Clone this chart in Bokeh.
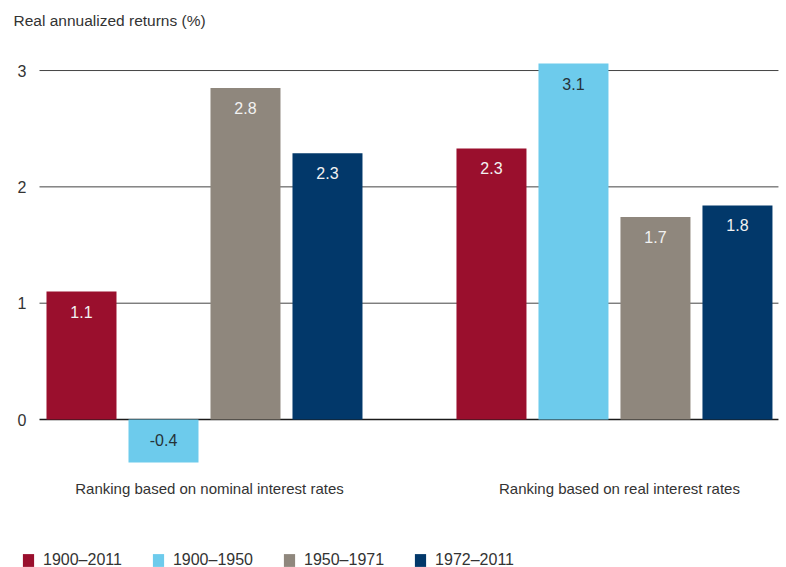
from bokeh.plotting import figure
from bokeh.models import ColumnDataSource, Range1d, Legend, LegendItem
from bokeh.core.properties import value
from bokeh.embed import file_html
from bokeh.resources import INLINE

groups = ["Ranking based on nominal interest rates", "Ranking based on real interest rates"]
series = ["1900–2011", "1900–1950", "1950–1971", "1972–2011"]
colors = ["#9A0F2D", "#6DCBEC", "#8F877D", "#02386A"]
label_colors = ["#F2F2F2", "#263238", "#F2F2F2", "#F2F2F2"]
nominal_values = [1.1, -0.37, 2.85, 2.29]
real_values = [2.33, 3.06, 1.74, 1.84]
nominal_labels = ["1.1", "-0.4", "2.8", "2.3"]
real_labels = ["2.3", "3.1", "1.7", "1.8"]
y_ticks = [0, 1, 2, 3]
y_tick_labels = ["0", "1", "2", "3"]
title_text = "Real annualized returns (%)"

FONT = "Liberation Sans"
TXT = "#333333"

# plot area extents (data units)
X_LEFT, X_RIGHT = -0.512, 8.5

p = figure(width=786, height=567, output_backend="svg", toolbar_location=None,
           x_range=Range1d(-0.9878, 8.598), y_range=Range1d(-1.272, 3.602),
           min_border_left=0, min_border_right=0, min_border_top=0, min_border_bottom=0)
p.outline_line_color = None
p.axis.visible = False
p.grid.visible = False

# gridlines
grid_src = ColumnDataSource(dict(x0=[X_LEFT] * len(y_ticks), x1=[X_RIGHT] * len(y_ticks), y=y_ticks,
                                 c=["#1a1a1a" if t == 0 else "#444444" for t in y_ticks],
                                 w=[1.4 if t == 0 else 1.0 for t in y_ticks]))
p.segment(x0="x0", x1="x1", y0="y", y1="y", source=grid_src, line_color="c", line_width="w")

# y tick labels
tick_src = ColumnDataSource(dict(x=[X_LEFT] * len(y_ticks), y=y_ticks, t=y_tick_labels))
p.text(x="x", y="y", text="t", source=tick_src, x_offset=-13, text_align="right", text_baseline="middle",
       text_font=value(FONT), text_font_size="16px", text_color=TXT)

all_values = [nominal_values, real_values]
all_labels = [nominal_labels, real_labels]
renderers = []
for s in range(len(series)):
    xs = [g * 5 + s for g in range(len(groups))]
    tops = [all_values[g][s] for g in range(len(groups))]
    labs = [all_labels[g][s] for g in range(len(groups))]
    src = ColumnDataSource(dict(x=xs, top=tops))
    r = p.vbar(x="x", top="top", bottom=0, width=70 / 82, source=src,
               fill_color=colors[s], line_color=None)
    renderers.append(r)
    lab_y = [max(t, 0) for t in tops]
    src2 = ColumnDataSource(dict(x=xs, y=lab_y, lab=labs))
    p.text(x="x", y="y", text="lab", source=src2, text_align="center",
           text_baseline="middle", y_offset=20, text_font=value(FONT),
           text_font_size="16px", text_color=label_colors[s])

# group labels
gsrc = ColumnDataSource(dict(x=[g * 5 + 1.5 for g in range(len(groups))], y=[-0.59] * len(groups), t=groups))
p.text(x="x", y="y", text="t", source=gsrc, text_align="center", text_baseline="middle",
       x_offset=5, text_font=value(FONT), text_font_size="15px", text_color=TXT)

# title
tsrc = ColumnDataSource(dict(x=[X_LEFT], y=[3.43], t=[title_text]))
p.text(x="x", y="y", text="t", source=tsrc, x_offset=-26, text_align="left", text_baseline="middle",
       text_font=value(FONT), text_font_size="15.5px", text_color=TXT)

legend = Legend(items=[LegendItem(label=series[i], renderers=[renderers[i]]) for i in range(len(series))],
                orientation="horizontal", location=(21, -2),
                glyph_width=14, glyph_height=16, label_height=16, label_standoff=8, spacing=29,
                padding=0, margin=0, border_line_alpha=0, background_fill_alpha=0,
                label_text_font=FONT, label_text_font_size="16px", label_text_color=TXT)
p.add_layout(legend, "center")

open("out.html", "w").write(file_html(p, INLINE))
